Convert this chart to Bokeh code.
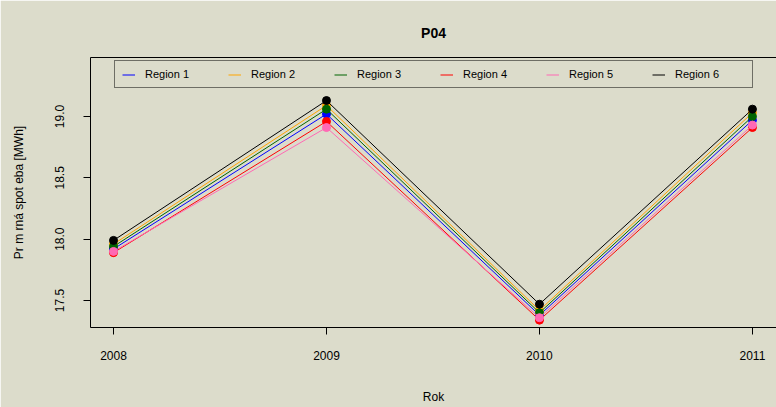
from bokeh.plotting import figure
from bokeh.models import LinearAxis, FixedTicker, Legend, LegendItem, Range1d
from bokeh.embed import file_html
from bokeh.resources import INLINE

years = [2008, 2009, 2010, 2011]
x_tick_labels = ["2008", "2009", "2010", "2011"]
y_ticks = [17.5, 18.0, 18.5, 19.0]
y_tick_labels = ["17.5", "18.0", "18.5", "19.0"]

region_names = ["Region 1", "Region 2", "Region 3", "Region 4", "Region 5", "Region 6"]
region1 = [17.92, 19.02, 17.38, 18.97]
region2 = [17.96, 19.09, 17.42, 19.03]
region3 = [17.94, 19.06, 17.40, 19.00]
region4 = [17.89, 18.96, 17.34, 18.91]
region5 = [17.90, 18.91, 17.36, 18.93]
region6 = [17.99, 19.13, 17.47, 19.06]
series = [region1, region2, region3, region4, region5, region6]
colors = ["#0000ff", "#ffa500", "#006400", "#ff0000", "#ff69b4", "#000000"]

BG = "#dcdccb"
FONT = "Liberation Sans"

p = figure(width=776, height=407, output_backend="svg", toolbar_location=None,
           x_range=Range1d(2007.892, 2011.113), y_range=Range1d(17.28, 19.481),
           min_border_left=90, min_border_right=0, min_border_top=57, min_border_bottom=80,
           title="P04")
p.background_fill_color = BG
p.border_fill_color = BG
p.outline_line_color = None
p.xgrid.visible = False
p.ygrid.visible = False

p.title.align = "center"
p.title.text_font = FONT
p.title.text_font_size = "14px"
p.title.text_font_style = "bold"
p.title.text_color = "black"
p.title.standoff = 34

for ax in (p.xaxis[0], p.yaxis[0]):
    ax.axis_line_color = "black"
    ax.major_tick_line_color = "black"
    ax.major_tick_out = 7
    ax.major_tick_in = 0
    ax.minor_tick_line_color = None
    ax.major_label_text_font = FONT
    ax.major_label_text_font_size = "12px"
    ax.major_label_text_color = "black"
    ax.axis_label_text_font = FONT
    ax.axis_label_text_font_size = "12px"
    ax.axis_label_text_font_style = "normal"
    ax.axis_label_text_color = "black"

p.xaxis.ticker = FixedTicker(ticks=years)
p.xaxis.major_label_overrides = dict(zip(years, x_tick_labels))
p.xaxis.major_label_standoff = 16
p.xaxis.axis_label = "Rok"
p.xaxis.axis_label_standoff = 27

p.yaxis.ticker = FixedTicker(ticks=y_ticks)
p.yaxis.major_label_overrides = dict(zip(y_ticks, y_tick_labels))
p.yaxis.major_label_orientation = "vertical"
p.yaxis.major_label_standoff = 19
p.yaxis.axis_label = "Pr m rná spot eba [MWh]"
p.yaxis.axis_label_standoff = 27

# top border of the box
top_axis = LinearAxis(ticker=FixedTicker(ticks=[]), major_tick_line_color=None,
                      minor_tick_line_color=None, axis_line_color="black",
                      major_tick_out=0, major_tick_in=0, major_label_standoff=0)
p.add_layout(top_axis, "above")

items = []
for name, vals, col in zip(region_names, series, colors):
    r = p.line(years, vals, line_color=col, line_width=1)
    p.scatter(years, vals, fill_color=col, line_color=col, size=8)
    items.append(LegendItem(label=name, renderers=[r]))

legend = Legend(items=items, orientation="horizontal", location=(24, 239),
                padding=7, glyph_width=13, glyph_height=11, label_standoff=10,
                label_width=70, label_height=11, spacing=13,
                label_text_font=FONT, label_text_font_size="11px",
                label_text_color="black",
                border_line_color="black", border_line_width=1,
                background_fill_color=BG, background_fill_alpha=1.0, margin=0)
p.add_layout(legend, "center")

open("out.html", "w").write(file_html(p, INLINE))
